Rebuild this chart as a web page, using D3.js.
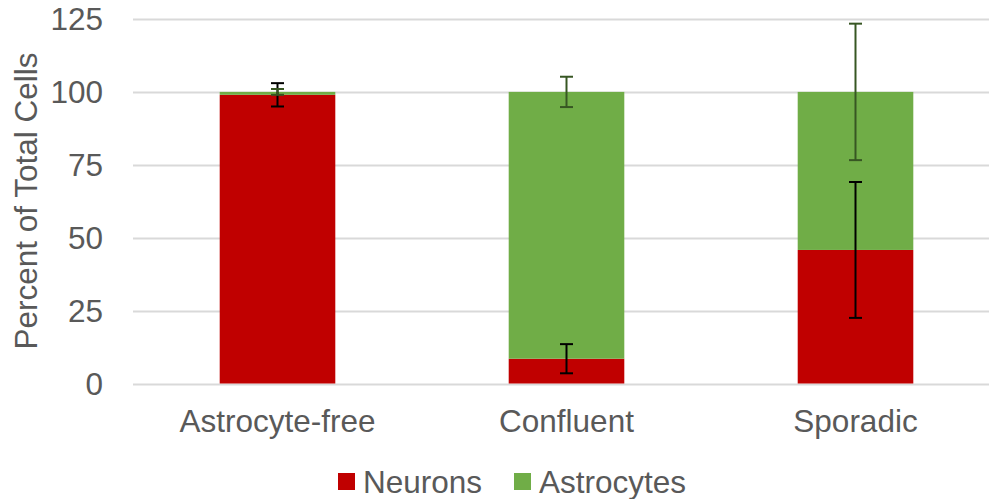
<!DOCTYPE html>
<html>
<head>
<meta charset="utf-8">
<script src="https://cdn.jsdelivr.net/npm/d3@7"></script>
<style>
  body { margin: 0; background: #fff; }
  svg text { font-family: "Liberation Sans", Arial, sans-serif; fill: #595959; }
</style>
</head>
<body>
<div id="chartContainer"></div>
<script>
const categories = ["Astrocyte-free", "Confluent", "Sporadic"];
const neurons = [99, 8.5, 45.8];
const neuronsErr = [4, 5, 23.3];
const astrocytes = [1, 91.5, 54.2];
const astrocytesErr = [1, 5.2, 23.4];
const yTicks = [0, 25, 50, 75, 100, 125];

const seriesNames = ["Neurons", "Astrocytes"];
const colors = { Neurons: "#C00000", Astrocytes: "#70AD47" };
const errColors = { Neurons: "#000000", Astrocytes: "#375623" };

const width = 989, height = 499;
const fontSize = "31.5px";

const svg = d3.select("#chartContainer").append("svg")
    .attr("width", width)
    .attr("height", height);

const x = d3.scaleBand().domain(categories).range([133, 1000]);
const y = d3.scaleLinear().domain([0, 125]).range([383.5, 19]);

// gridlines
svg.append("g")
    .selectAll("line")
    .data(yTicks)
    .join("line")
    .attr("x1", 133)
    .attr("x2", width)
    .attr("y1", d => Math.round(y(d)) + 0.5)
    .attr("y2", d => Math.round(y(d)) + 0.5)
    .attr("stroke", "#d9d9d9")
    .attr("stroke-width", 2);

// y tick labels
svg.append("g")
    .selectAll("text")
    .data(yTicks)
    .join("text")
    .attr("x", 103)
    .attr("y", d => y(d))
    .attr("dy", "0.36em")
    .attr("text-anchor", "end")
    .style("font-size", fontSize)
    .text(d => d);

// axis title
svg.append("text")
    .attr("transform", "translate(37,201) rotate(-90)")
    .attr("text-anchor", "middle")
    .style("font-size", fontSize)
    .text("Percent of Total Cells");

// stacked data
const rows = categories.map((c, i) => ({
    cat: c,
    Neurons: neurons[i],
    Astrocytes: astrocytes[i],
    NeuronsErr: neuronsErr[i],
    AstrocytesErr: astrocytesErr[i]
}));
const stacked = d3.stack().keys(seriesNames)(rows);

const barW = x.step() * 0.4;

stacked.forEach(layer => {
    svg.append("g")
        .selectAll("rect")
        .data(layer)
        .join("rect")
        .attr("x", d => x(d.data.cat) + x.step() / 2 - barW / 2)
        .attr("width", barW)
        .attr("y", d => y(d[1]))
        .attr("height", d => y(d[0]) - y(d[1]))
        .attr("fill", colors[layer.key]);
});

// error bars
stacked.forEach(layer => {
    const g = svg.append("g")
        .attr("stroke", errColors[layer.key])
        .attr("stroke-width", 2);
    layer.forEach(d => {
        const cx = x(d.data.cat) + x.step() / 2;
        const e = d.data[layer.key + "Err"];
        const top = y(d[1] + e), bot = y(d[1] - e);
        g.append("line").attr("x1", cx).attr("x2", cx).attr("y1", top).attr("y2", bot);
        g.append("line").attr("x1", cx - 6.5).attr("x2", cx + 6.5).attr("y1", top).attr("y2", top);
        g.append("line").attr("x1", cx - 6.5).attr("x2", cx + 6.5).attr("y1", bot).attr("y2", bot);
    });
});

// x labels
svg.append("g")
    .selectAll("text")
    .data(categories)
    .join("text")
    .attr("x", d => x(d) + x.step() / 2)
    .attr("y", 431.5)
    .attr("text-anchor", "middle")
    .style("font-size", fontSize)
    .text(d => d);

// legend
const legendPos = [338, 514];
const legend = svg.append("g")
    .selectAll("g")
    .data(seriesNames)
    .join("g")
    .attr("transform", (d, i) => `translate(${legendPos[i]},473)`);
legend.append("rect")
    .attr("width", 17)
    .attr("height", 17)
    .attr("fill", d => colors[d]);
legend.append("text")
    .attr("x", 25)
    .attr("y", 19.5)
    .style("font-size", fontSize)
    .text(d => d);
</script>
</body>
</html>
